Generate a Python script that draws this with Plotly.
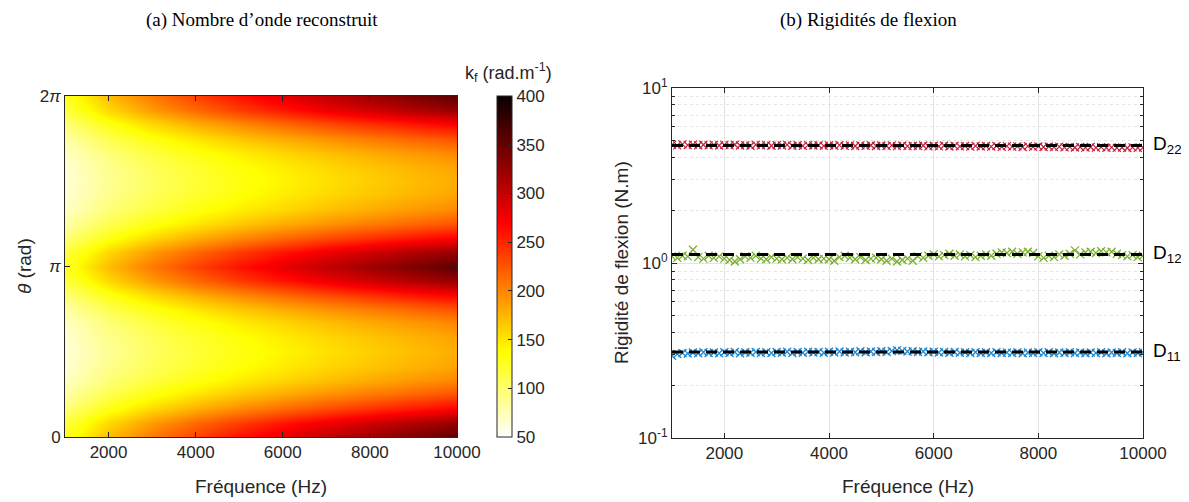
# Wavenumber map and bending stiffnesses
import plotly.graph_objects as go
from plotly.subplots import make_subplots
import numpy as np

W, H = 1189, 502
OFF = 8  # page body margin
FW, FH = W - OFF, H - OFF

# (a) reconstructed wavenumber k_f (rad/m), rows = theta, cols = frequency
freq_map = [1000, 2000, 3000, 4000, 5000, 6000, 7000, 8000, 9000, 10000]
theta_map = [i * np.pi / 12 for i in range(25)]
kf = [
    [126.0, 172.0, 206.5, 235.0, 259.9, 282.1, 302.4, 321.1, 338.6, 355.0],
    [115.3, 157.5, 189.1, 215.2, 237.9, 258.2, 276.8, 294.0, 310.0, 325.0],
    [96.0, 131.1, 157.4, 179.1, 198.0, 214.9, 230.4, 244.7, 258.0, 270.5],
    [80.5, 110.0, 132.0, 150.2, 166.1, 180.3, 193.3, 205.2, 216.4, 226.9],
    [70.7, 96.5, 115.9, 131.9, 145.8, 158.3, 169.7, 180.2, 190.0, 199.2],
    [65.4, 89.4, 107.3, 122.1, 135.0, 146.5, 157.1, 166.8, 175.9, 184.4],
    [63.8, 87.1, 104.5, 119.0, 131.5, 142.8, 153.1, 162.5, 171.4, 179.7],
    [65.4, 89.4, 107.3, 122.1, 135.0, 146.5, 157.1, 166.8, 175.9, 184.4],
    [70.7, 96.5, 115.9, 131.9, 145.8, 158.3, 169.7, 180.2, 190.0, 199.2],
    [80.5, 110.0, 132.0, 150.2, 166.1, 180.3, 193.3, 205.2, 216.4, 226.9],
    [96.0, 131.1, 157.4, 179.1, 198.0, 214.9, 230.4, 244.7, 258.0, 270.5],
    [115.3, 157.5, 189.1, 215.2, 237.9, 258.2, 276.8, 294.0, 310.0, 325.0],
    [126.0, 172.0, 206.5, 235.0, 259.9, 282.1, 302.4, 321.1, 338.6, 355.0],
    [115.3, 157.5, 189.1, 215.2, 237.9, 258.2, 276.8, 294.0, 310.0, 325.0],
    [96.0, 131.1, 157.4, 179.1, 198.0, 214.9, 230.4, 244.7, 258.0, 270.5],
    [80.5, 110.0, 132.0, 150.2, 166.1, 180.3, 193.3, 205.2, 216.4, 226.9],
    [70.7, 96.5, 115.9, 131.9, 145.8, 158.3, 169.7, 180.2, 190.0, 199.2],
    [65.4, 89.4, 107.3, 122.1, 135.0, 146.5, 157.1, 166.8, 175.9, 184.4],
    [63.8, 87.1, 104.5, 119.0, 131.5, 142.8, 153.1, 162.5, 171.4, 179.7],
    [65.4, 89.4, 107.3, 122.1, 135.0, 146.5, 157.1, 166.8, 175.9, 184.4],
    [70.7, 96.5, 115.9, 131.9, 145.8, 158.3, 169.7, 180.2, 190.0, 199.2],
    [80.5, 110.0, 132.0, 150.2, 166.1, 180.3, 193.3, 205.2, 216.4, 226.9],
    [96.0, 131.1, 157.4, 179.1, 198.0, 214.9, 230.4, 244.7, 258.0, 270.5],
    [115.3, 157.5, 189.1, 215.2, 237.9, 258.2, 276.8, 294.0, 310.0, 325.0],
    [126.0, 172.0, 206.5, 235.0, 259.9, 282.1, 302.4, 321.1, 338.6, 355.0],
]
cb_ticks = [50, 100, 150, 200, 250, 300, 350, 400]

# (b) identified stiffnesses (N.m), 1000..10000 Hz every 100 Hz
freq_d = list(range(1000, 10001, 100))
d22 = [4.74, 4.70, 4.76, 4.72, 4.75, 4.71, 4.74, 4.70, 4.73, 4.69,
       4.73, 4.70, 4.74, 4.69, 4.72, 4.68, 4.73, 4.70, 4.72, 4.68,
       4.72, 4.69, 4.73, 4.68, 4.71, 4.67, 4.72, 4.69, 4.71, 4.67,
       4.71, 4.68, 4.72, 4.67, 4.70, 4.66, 4.70, 4.67, 4.71, 4.66,
       4.69, 4.66, 4.70, 4.65, 4.69, 4.65, 4.68, 4.66, 4.69, 4.64,
       4.68, 4.64, 4.69, 4.63, 4.67, 4.64, 4.66, 4.62, 4.67, 4.63,
       4.66, 4.62, 4.66, 4.61, 4.65, 4.62, 4.64, 4.60, 4.65, 4.61,
       4.64, 4.60, 4.63, 4.59, 4.62, 4.58, 4.61, 4.57, 4.60, 4.56,
       4.60, 4.56, 4.59, 4.55, 4.58, 4.55, 4.57, 4.54, 4.58, 4.55,
       4.57]
d12 = [1.09, 1.07, 1.10, 1.09, 1.19, 1.08, 1.06, 1.10, 1.07, 1.09,
       1.06, 1.04, 1.02, 1.05, 1.09, 1.07, 1.10, 1.06, 1.05, 1.08,
       1.06, 1.05, 1.07, 1.05, 1.08, 1.06, 1.04, 1.07, 1.05, 1.06,
       1.05, 1.03, 1.08, 1.10, 1.07, 1.05, 1.08, 1.04, 1.06, 1.07,
       1.05, 1.03, 1.06, 1.02, 1.04, 1.06, 1.03, 1.09, 1.07, 1.10,
       1.12, 1.09, 1.11, 1.13, 1.10, 1.12, 1.09, 1.11, 1.08, 1.10,
       1.12, 1.10, 1.13, 1.15, 1.14, 1.16, 1.13, 1.15, 1.16, 1.14,
       1.09, 1.07, 1.10, 1.08, 1.12, 1.10, 1.13, 1.18, 1.12, 1.15,
       1.16, 1.14, 1.17, 1.15, 1.16, 1.13, 1.11, 1.09, 1.11, 1.08,
       1.10]
d11 = [0.295, 0.302, 0.306, 0.304, 0.308, 0.305, 0.309, 0.306, 0.308, 0.305,
       0.309, 0.306, 0.310, 0.305, 0.309, 0.307, 0.310, 0.306, 0.309, 0.306,
       0.310, 0.307, 0.311, 0.306, 0.310, 0.307, 0.311, 0.308, 0.310, 0.307,
       0.311, 0.308, 0.312, 0.308, 0.311, 0.309, 0.313, 0.309, 0.312, 0.310,
       0.313, 0.310, 0.314, 0.318, 0.315, 0.312, 0.313, 0.310, 0.312, 0.309,
       0.311, 0.308, 0.310, 0.307, 0.310, 0.307, 0.309, 0.306, 0.309, 0.306,
       0.309, 0.306, 0.309, 0.306, 0.308, 0.306, 0.309, 0.305, 0.308, 0.306,
       0.309, 0.306, 0.309, 0.305, 0.308, 0.306, 0.309, 0.306, 0.308, 0.305,
       0.308, 0.306, 0.309, 0.305, 0.308, 0.306, 0.309, 0.305, 0.308, 0.306,
       0.309]
d_names = ["D<sub>11</sub>", "D<sub>12</sub>", "D<sub>22</sub>"]
d_means = [0.31, 1.12, 4.70]
freq_ends = [1000, 10000]
x_ticks = [2000, 4000, 6000, 8000, 10000]

TXT = "#262626"
SANS = "Liberation Sans, Arial, sans-serif"
SERIF = "Liberation Serif, Times New Roman, serif"

# positions given in window pixels
def px_x(p):
    return (p - OFF) / FW

def px_y(p):
    return 1 - (p - OFF) / FH

hot_r = [[0, "rgb(255,255,255)"], [0.25, "rgb(255,255,0)"],
         [0.625, "rgb(255,0,0)"], [1, "rgb(10,0,0)"]]

fig = make_subplots(rows=1, cols=2)

fig.add_trace(go.Heatmap(
    x=freq_map, y=theta_map, z=kf, zmin=50, zmax=400, zsmooth="best",
    colorscale=hot_r, showscale=True,
    colorbar=dict(x=px_x(497), xanchor="left", xref="paper",
                  y=px_y(266.5), yanchor="middle", ypad=0, xpad=0,
                  thickness=15, thicknessmode="pixels",
                  len=341, lenmode="pixels",
                  outlinecolor=TXT, outlinewidth=1,
                  tickvals=cb_ticks, ticks="inside", ticklen=4,
                  tickcolor=TXT, tickfont=dict(family=SANS, size=17, color=TXT)),
), row=1, col=1)

colors = ["#1a86d0", "#77ac30", "#c41e3a"]
for vals, col in zip([d11, d12, d22], colors):
    fig.add_trace(go.Scatter(
        x=freq_d, y=vals, mode="markers",
        marker=dict(symbol="x-thin", size=8, line=dict(width=1.2, color=col)),
        showlegend=False), row=1, col=2)
for m in d_means:
    fig.add_trace(go.Scatter(
        x=freq_ends, y=[m, m], mode="lines",
        line=dict(color="black", width=3, dash="11px,6px"),
        showlegend=False), row=1, col=2)

ax_common = dict(showline=True, linecolor=TXT, linewidth=1, mirror="ticks",
                 ticks="inside", ticklen=5, tickcolor=TXT, automargin=False,
                 tickfont=dict(family=SANS, size=17, color=TXT), zeroline=False)

fig.update_xaxes(domain=[px_x(65), px_x(457)], range=[1000, 10000],
                 tickvals=x_ticks, ticktext=[str(v) for v in x_ticks],
                 showgrid=False, **ax_common, row=1, col=1)
fig.update_yaxes(domain=[px_y(437), px_y(96)], range=[0, 2 * np.pi],
                 tickvals=[0, np.pi, 2 * np.pi], ticktext=["0", "<i>π</i>", "2<i>π</i>"],
                 showgrid=False, **ax_common, row=1, col=1)

minor_y = [v * 10.0 ** e for e in (-1, 0) for v in range(2, 10)]
fig.update_xaxes(domain=[px_x(672), px_x(1143)], range=[1000, 10000],
                 tickvals=x_ticks, ticktext=[str(v) for v in x_ticks],
                 showgrid=True, gridcolor="#e3e3e3", gridwidth=1,
                 **ax_common, row=1, col=2)
fig.update_yaxes(domain=[px_y(438), px_y(88)], type="log", range=[-1, 1],
                 tickvals=[0.1, 1, 10], ticktext=["10<sup>-1</sup>", "10<sup>0</sup>", "10<sup>1</sup>"],
                 showgrid=True, gridcolor="#e3e3e3", gridwidth=1,
                 minor=dict(tickmode="array", tickvals=minor_y, ticks="inside", ticklen=3,
                            tickcolor=TXT, showgrid=True, gridcolor="#e4e4e4",
                            griddash="dot", gridwidth=1),
                 **ax_common, row=1, col=2)

ann = []
ann.append(dict(text="(a) Nombre d’onde reconstruit", x=px_x(262), y=px_y(20),
                font=dict(family=SERIF, size=19, color="black")))
ann.append(dict(text="(b) Rigidités de flexion", x=px_x(868), y=px_y(20),
                font=dict(family=SERIF, size=19, color="black")))
ann.append(dict(text="k<sub>f</sub> (rad.m<sup>-1</sup>)", x=px_x(508), y=px_y(72),
                font=dict(family=SANS, size=18, color=TXT)))
ann.append(dict(text="Fréquence (Hz)", x=px_x(261), y=px_y(486),
                font=dict(family=SANS, size=19, color=TXT)))
ann.append(dict(text="Fréquence (Hz)", x=px_x(908), y=px_y(486),
                font=dict(family=SANS, size=19, color=TXT)))
ann.append(dict(text="<i>θ</i> (rad)", x=px_x(24), y=px_y(266), textangle=-90,
                font=dict(family=SANS, size=19, color=TXT)))
ann.append(dict(text="Rigidité de flexion (N.m)", x=px_x(621), y=px_y(263), textangle=-90,
                font=dict(family=SANS, size=19, color=TXT)))
for a in ann:
    a.update(xref="paper", yref="paper", showarrow=False, xanchor="center", yanchor="middle")

for name, m in zip(d_names, d_means):
    ann.append(dict(text=name, x=px_x(1151), y=np.log10(m), xref="paper", yref="y2",
                    showarrow=False, xanchor="left", yanchor="middle",
                    font=dict(family=SANS, size=19, color="black")))

fig.update_layout(width=FW, height=FH,
                  margin=dict(l=0, r=0, t=0, b=0, pad=0, autoexpand=False),
                  paper_bgcolor="white", plot_bgcolor="white",
                  annotations=ann, showlegend=False)

fig.write_html("out.html")
